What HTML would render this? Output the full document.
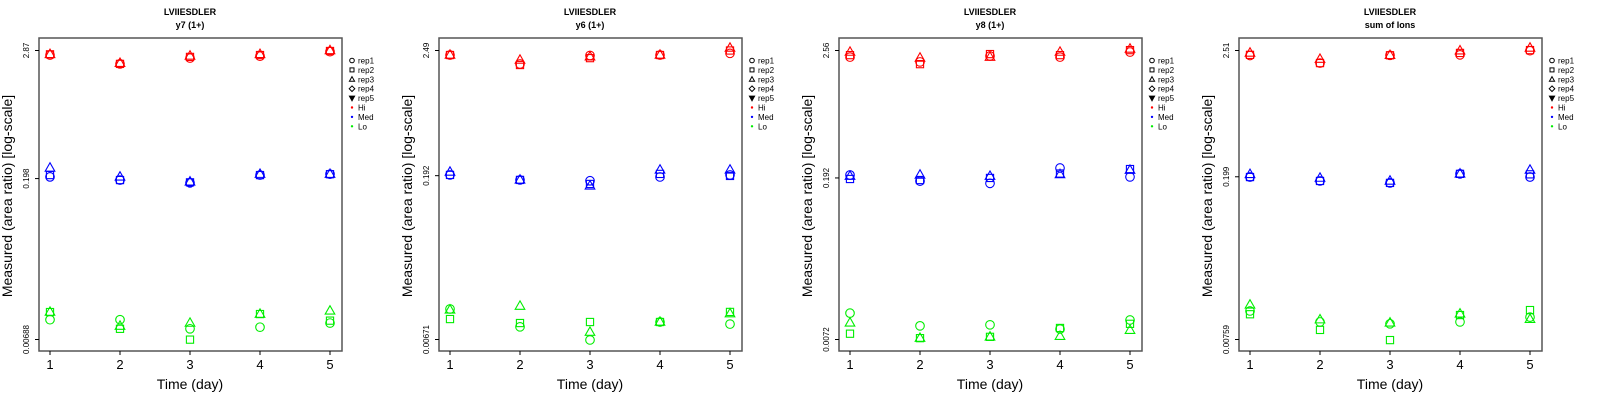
<!DOCTYPE html>
<html><head><meta charset="utf-8"><style>
body{margin:0;background:#fff;}
svg{display:block;font-family:"Liberation Sans",Arial,sans-serif;}
</style></head><body>
<svg id="chart" width="1600" height="400" viewBox="0 0 1600 400"></svg>
<script>
const days = [1,2,3,4,5];
const panelTitles = ["y7 (1+)","y6 (1+)","y8 (1+)","sum of Ions"];
const tickTop = [2.87,2.49,2.56,2.51];
const tickMid = [0.198,0.192,0.192,0.199];
const tickBot = [0.00688,0.00671,0.0072,0.00759];
const tickTopLabel = ["2.87","2.49","2.56","2.51"];
const tickMidLabel = ["0.198","0.192","0.192","0.199"];
const tickBotLabel = ["0.00688","0.00671","0.0072","0.00759"];
const groups = ["Hi","Med","Lo"];
const reps = ["rep1","rep2","rep3"];
// panel 1 (y7)
const p1Hi = [[2.61,2.17,2.45,2.55,2.80],[2.65,2.17,2.51,2.61,2.84],[2.65,2.20,2.56,2.65,2.87]];
const p1Med = [[0.205,0.192,0.181,0.213,0.217],[0.213,0.192,0.183,0.213,0.217],[0.247,0.205,0.185,0.217,0.217]];
const p1Lo = [[0.0104,0.0104,0.0086,0.0089,0.0097],[0.0122,0.0086,0.00686,0.0117,0.0102],[0.0122,0.0091,0.0097,0.0117,0.0125]];
// panel 2 (y6)
const p2Hi = [[2.27,1.89,2.25,2.27,2.35],[2.27,1.85,2.13,2.27,2.49],[2.27,2.05,2.19,2.27,2.62]];
const p2Med = [[0.195,0.176,0.173,0.187,0.195],[0.195,0.176,0.162,0.199,0.191],[0.207,0.176,0.156,0.216,0.216]];
const p2Lo = [[0.01254,0.0087,0.00665,0.0096,0.0092],[0.0102,0.0094,0.0096,0.0096,0.0118],[0.0123,0.0133,0.0078,0.0096,0.0114]];
// panel 3 (y8)
const p3Hi = [[2.24,2.03,2.29,2.24,2.48],[2.33,1.94,2.38,2.33,2.58],[2.48,2.20,2.24,2.48,2.64]];
const p3Med = [[0.204,0.180,0.172,0.235,0.196],[0.188,0.184,0.192,0.210,0.230],[0.199,0.204,0.199,0.206,0.225]];
const p3Lo = [[0.0123,0.0095,0.0097,0.0089,0.0107],[0.0081,0.0074,0.0076,0.0091,0.0099],[0.0101,0.0074,0.0076,0.0077,0.0087]];
// panel 4 (sum of ions)
const p4Hi = [[2.27,1.95,2.28,2.30,2.50],[2.30,1.95,2.28,2.39,2.53],[2.39,2.11,2.28,2.50,2.64]];
const p4Med = [[0.198,0.183,0.176,0.211,0.198],[0.198,0.183,0.176,0.211,0.209],[0.209,0.194,0.183,0.211,0.228]];
const p4Lo = [[0.01346,0.0108,0.0104,0.0108,0.0119],[0.0126,0.0092,0.0075,0.0124,0.0137],[0.0152,0.0113,0.0106,0.0127,0.0114]];
const panelData = [[p1Hi,p1Med,p1Lo],[p2Hi,p2Med,p2Lo],[p3Hi,p3Med,p3Lo],[p4Hi,p4Med,p4Lo]];

const groupColors = ["#ff0000","#0000ff","#00ee00"];
const NS = "http://www.w3.org/2000/svg";
const svg = document.getElementById("chart");
function mk(tag, attrs, parent){
  const e = document.createElementNS(NS, tag);
  for (const k in attrs) e.setAttribute(k, attrs[k]);
  parent.appendChild(e);
  return e;
}
function marker(g, shape, cx, cy, color){
  let e;
  if (shape === 0) e = mk("circle",{cx:cx,cy:cy,r:4.3,fill:"none",stroke:color,"stroke-width":1.1},g);
  else if (shape === 1) e = mk("rect",{x:cx-3.6,y:cy-3.6,width:7.2,height:7.2,fill:"none",stroke:color,"stroke-width":1.1},g);
  else e = mk("polygon",{points:`${cx},${cy-5.2} ${cx-4.8},${cy+3.2} ${cx+4.8},${cy+3.2}`,fill:"none",stroke:color,"stroke-width":1.1},g);
  return e;
}
for (let p = 0; p < 4; p++){
  const ox = p*400;
  const g = mk("g",{transform:`translate(${ox},0)`},svg);
  
  
  const left = 39, right = 342, top = 38, bottom = 351;
  const yTopPx = 50.5, yBotPx = 339.5;
  const lt = Math.log10(tickTop[p]), lb = Math.log10(tickBot[p]);
  const yS = v => yTopPx + (lt - Math.log10(v)) / (lt - lb) * (yBotPx - yTopPx);
  const xS = d => 50 + (d - 1) * 70;
  let t = mk("text",{x:190,y:15,"text-anchor":"middle","font-size":9,"font-weight":"bold"},g);
  t.textContent = "LVIIESDLER";
  
  
  t = mk("text",{x:190,y:28,"text-anchor":"middle","font-size":9,"font-weight":"bold"},g);
  t.textContent = panelTitles[p];
  
  
  const box = mk("rect",{x:left,y:top,width:right-left,height:bottom-top,fill:"none",stroke:"#555","stroke-width":1.5},g);
  
  
  // y ticks
  const yt = [[tickTop[p],tickTopLabel[p]],[tickMid[p],tickMidLabel[p]],[tickBot[p],tickBotLabel[p]]];
  yt.forEach(([v,l]) => {
    const y = yS(v);
    mk("line",{x1:left-4,x2:left,y1:y,y2:y,stroke:"#000","stroke-width":1},g);
    const tx = mk("text",{x:0,y:0,"text-anchor":"middle","font-size":8,transform:`translate(29,${y}) rotate(-90)`},g);
    tx.textContent = l;
    
    
  });
  days.forEach(d => {
    const x = xS(d);
    mk("line",{x1:x,x2:x,y1:bottom,y2:bottom+4,stroke:"#000","stroke-width":1},g);
    const tx = mk("text",{x:x,y:369,"text-anchor":"middle","font-size":13},g);
    tx.textContent = d;
    
    
  });
  t = mk("text",{x:190,y:389,"text-anchor":"middle","font-size":14},g);
  t.textContent = "Time (day)";
  
  
  t = mk("text",{x:0,y:0,"text-anchor":"middle","font-size":14,transform:"translate(12,196) rotate(-90)"},g);
  t.textContent = "Measured (area ratio) [log-scale]";
  
  
  // points
  panelData[p].forEach((grp, gi) => {
    grp.forEach((series, ri) => {
      series.forEach((v, di) => {
        const m = marker(g, ri, xS(days[di]), yS(v), groupColors[gi]);
        
        
      });
    });
  });
  // legend
  const lg = mk("g",{},g);
  
  
  const labels = ["rep1","rep2","rep3","rep4","rep5","Hi","Med","Lo"];
  labels.forEach((l, i) => {
    const y = 60.5 + i*9.4;
    const cx = 352;
    if (i === 0) mk("circle",{cx:cx,cy:y,r:2.3,fill:"none",stroke:"#000","stroke-width":1},lg);
    else if (i === 1) mk("rect",{x:cx-2,y:y-2,width:4,height:4,fill:"none",stroke:"#000","stroke-width":1},lg);
    else if (i === 2) mk("polygon",{points:`${cx},${y-2.7} ${cx-2.6},${y+2} ${cx+2.6},${y+2}`,fill:"none",stroke:"#000","stroke-width":1},lg);
    else if (i === 3) mk("polygon",{points:`${cx},${y-2.8} ${cx+2.8},${y} ${cx},${y+2.8} ${cx-2.8},${y}`,fill:"none",stroke:"#000","stroke-width":1},lg);
    else if (i === 4) mk("polygon",{points:`${cx},${y+2.7} ${cx-2.6},${y-2} ${cx+2.6},${y-2}`,fill:"#000",stroke:"#000","stroke-width":1},lg);
    else mk("circle",{cx:cx,cy:y,r:1.2,fill:groupColors[i-5]},lg);
    const tx = mk("text",{x:358,y:y+3,"font-size":8},lg);
    tx.textContent = l;
    
    
  });
}
</script>
</body></html>
